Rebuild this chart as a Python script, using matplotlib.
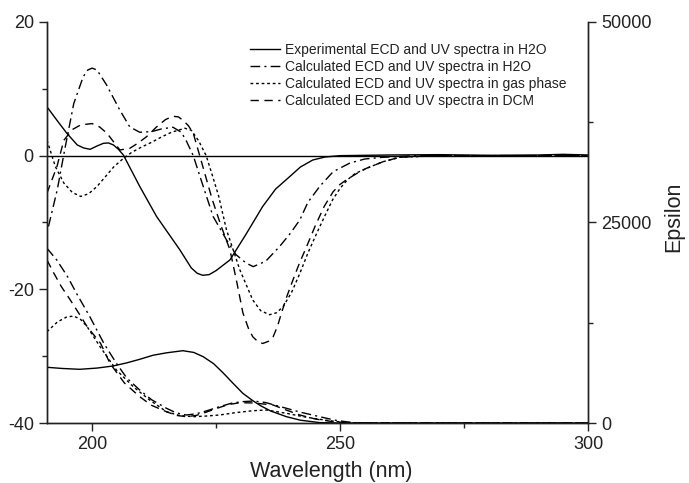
import matplotlib
matplotlib.use('Agg')
import matplotlib.pyplot as plt
from matplotlib.ticker import MultipleLocator

plt.rcParams['font.family'] = ['Liberation Sans', 'DejaVu Sans']
plt.rcParams['axes.unicode_minus'] = False

# ECD spectra (left axis)
exp_ecd_x = [190.9, 192.9, 194.9, 197.0, 198.3, 199.6, 201.0, 202.3, 203.3, 204.3,
             205.3, 206.3, 209.6, 213.0, 217.7, 220.0, 221.2, 222.3, 223.6, 225.0,
             227.8, 231.0, 234.4, 237.0, 239.9, 242.0, 244.5, 247.0, 250.0, 260.0,
             270.0, 280.0, 290.0, 295.0, 300.0]
exp_ecd_y = [7.3, 5.3, 3.35, 1.6, 1.15, 0.95, 1.45, 1.85, 1.9, 1.6,
             0.95, 0.1, -4.6, -9.1, -14.1, -16.8, -17.6, -17.9, -17.8, -17.2,
             -15.6, -11.8, -7.6, -5.0, -3.1, -1.7, -0.65, -0.2, 0.0, 0.1,
             0.15, 0.05, 0.1, 0.2, 0.1]

h2o_ecd_x = [191.2, 193.0, 194.5, 196.3, 198.2, 199.1, 200.0, 201.0, 202.9, 205.6,
             207.6, 209.6, 212.0, 214.0, 216.3, 218.0, 219.0, 220.4, 221.7, 224.4,
             227.1, 229.0, 231.1, 232.5, 235.0, 237.8, 240.0, 241.9, 243.5, 245.9,
             248.6, 252.0, 255.0, 258.6, 265.0, 300.0]
h2o_ecd_y = [-10.6, -5.0, 1.0, 7.8, 11.8, 12.8, 13.1, 12.8, 10.6, 6.8,
             4.3, 3.5, 3.6, 4.0, 4.25, 3.5, 2.2, 0.0, -3.0, -9.1,
             -12.6, -14.8, -16.1, -16.6, -15.8, -13.6, -11.6, -9.6, -7.0, -4.6,
             -2.4, -1.1, -0.5, -0.25, 0.0, 0.0]

gas_ecd_x = [190.9, 192.6, 194.3, 196.0, 197.7, 199.3, 201.0, 204.4, 206.4, 208.0,
             210.0, 212.0, 214.0, 216.0, 218.7, 220.0, 221.5, 223.0, 224.1, 225.5,
             227.1, 229.8, 232.4, 234.0, 235.8, 237.2, 238.5, 240.2, 241.9, 243.5,
             245.3, 247.0, 248.5, 250.0, 251.5, 253.0, 255.3, 258.7, 262.0, 270.0,
             300.0]
gas_ecd_y = [2.3, -1.65, -4.1, -5.5, -6.1, -5.7, -4.6, -1.65, -0.35, 0.5,
             1.3, 2.0, 2.8, 3.5, 4.1, 3.8, 2.2, 0.0, -2.6, -6.0,
             -11.1, -17.1, -21.6, -23.2, -23.8, -23.5, -22.6, -20.5, -17.6, -14.6,
             -11.6, -8.9, -6.6, -4.9, -3.6, -2.7, -1.9, -0.9, -0.25, 0.0,
             0.0]

dcm_ecd_x = [190.9, 192.9, 194.3, 196.0, 197.7, 200.0, 201.5, 203.0, 205.6, 207.6,
             209.3, 211.0, 213.0, 214.8, 216.3, 217.4, 218.3, 219.4, 220.4, 221.7,
             222.7, 224.2, 226.0, 227.8, 229.2, 230.4, 231.5, 232.4, 233.4, 234.4,
             235.5, 236.5, 237.4, 238.2, 239.3, 240.5, 241.8, 243.2, 245.0, 246.8,
             248.6, 250.0, 251.3, 253.3, 255.3, 258.7, 262.0, 268.0, 300.0]
dcm_ecd_y = [-5.6, -1.65, 2.3, 3.9, 4.6, 4.8, 4.3, 3.35, 0.85, 1.1,
             1.9, 2.85, 4.3, 5.4, 5.9, 5.8, 5.3, 4.5, 3.35, 0.0,
             -2.6, -6.5, -10.5, -14.1, -19.0, -23.5, -25.8, -27.1, -27.8, -28.1,
             -27.8, -27.1, -25.5, -23.5, -21.0, -18.6, -16.1, -13.7, -10.5, -7.6,
             -5.4, -4.3, -3.6, -2.7, -1.9, -0.9, -0.25, 0.0, 0.0]

# UV spectra (right axis, epsilon)
exp_uv_x = [190.9, 194.0, 197.5, 201.0, 204.2, 207.0, 209.6, 212.3, 215.0, 218.3,
            220.5, 222.4, 224.5, 226.5, 228.5, 230.4, 232.5, 234.0, 236.0, 239.2,
            242.0, 245.9, 250.0, 300.0]
exp_uv_y = [6946, 6800, 6696, 6850, 7108, 7500, 7943, 8450, 8750, 9016,
            8800, 8267, 7400, 6200, 4900, 3700, 2743, 2150, 1500, 786,
            350, 50, 0, 0]

h2o_uv_x = [190.9, 192.9, 195.0, 197.0, 199.5, 202.4, 204.9, 207.0, 209.6, 212.0,
            215.0, 217.0, 219.0, 221.0, 223.0, 225.7, 228.0, 230.0, 232.5, 235.0,
            237.0, 239.2, 242.0, 245.9, 249.0, 252.6, 256.0, 300.0]
h2o_uv_y = [21784, 20300, 18300, 16000, 13300, 9900, 7444, 5600, 4115, 2900,
            1833, 1250, 998, 1150, 1500, 2033, 2450, 2650, 2743, 2550,
            2200, 1833, 1350, 786, 350, 37, 0, 0]

gas_uv_x = [190.9, 193.0, 194.8, 196.3, 197.7, 199.0, 201.6, 204.9, 208.3, 211.6,
            215.0, 217.5, 220.4, 223.0, 225.7, 229.0, 232.5, 235.2, 239.2, 242.5,
            245.9, 249.0, 252.6, 256.0, 300.0]
gas_uv_y = [11384, 12600, 13200, 13342, 12900, 12008, 9514, 6609, 4526, 2868,
            1409, 950, 786, 870, 998, 1300, 1534, 1621, 1210, 800,
            461, 200, 37, 0, 0]

dcm_uv_x = [190.9, 192.3, 193.8, 195.6, 197.3, 199.0, 201.7, 203.6, 206.5, 209.6,
            212.0, 215.0, 217.0, 219.0, 221.0, 223.0, 225.5, 227.5, 229.8, 232.5,
            236.5, 239.0, 241.9, 245.0, 248.6, 252.0, 256.0, 300.0]
dcm_uv_y = [20325, 18660, 17000, 15340, 13700, 12010, 9940, 7444, 5000, 3280,
            2200, 1409, 950, 786, 950, 1350, 1900, 2300, 2531, 2500,
            2245, 1650, 998, 500, 162, 20, 0, 0]

labels = ['Experimental ECD and UV spectra in H2O',
          'Calculated ECD and UV spectra in H2O',
          'Calculated ECD and UV spectra in gas phase',
          'Calculated ECD and UV spectra in DCM']

styles = ['-', (0, (7, 3, 1.5, 3)), (0, (2, 2)), (0, (6, 4))]
ink = '#222222'

fig = plt.figure(figsize=(6.89, 4.83), dpi=100)
ax1 = fig.add_axes([0.0682, 0.1242, 0.7852, 0.8303])
ax2 = ax1.twinx()

ecd = [(exp_ecd_x, exp_ecd_y), (h2o_ecd_x, h2o_ecd_y),
       (gas_ecd_x, gas_ecd_y), (dcm_ecd_x, dcm_ecd_y)]
uv = [(exp_uv_x, exp_uv_y), (h2o_uv_x, h2o_uv_y),
      (gas_uv_x, gas_uv_y), (dcm_uv_x, dcm_uv_y)]

lines = []
for (x, y), ls, lab in zip(ecd, styles, labels):
    lines += ax1.plot(x, y, color='black', linestyle=ls, linewidth=1.0, label=lab)
for (x, y), ls in zip(uv, styles):
    ax2.plot(x, y, color='black', linestyle=ls, linewidth=1.0)

ax1.axhline(0, color='black', linewidth=1.0)

ax1.set_xlim(190.9, 300)
ax1.set_ylim(-40, 20)
ax2.set_ylim(0, 50000)

ax1.xaxis.set_major_locator(MultipleLocator(50))
ax1.xaxis.set_minor_locator(MultipleLocator(25))
ax1.yaxis.set_major_locator(MultipleLocator(20))
ax1.yaxis.set_minor_locator(MultipleLocator(10))
ax2.yaxis.set_major_locator(MultipleLocator(25000))
ax2.yaxis.set_minor_locator(MultipleLocator(12500))

for ax in (ax1, ax2):
    ax.spines['top'].set_visible(False)
    for s in ax.spines.values():
        s.set_color(ink)
        s.set_linewidth(1.0)
    ax.tick_params(which='major', direction='out', length=6, width=1.0,
                   colors=ink, labelsize=13, labelcolor=ink)
    ax.tick_params(which='minor', direction='out', length=3.5, width=1.0, colors=ink)

ax1.set_xlabel('Wavelength (nm)', fontsize=15.5, color=ink)
ax1.xaxis.set_label_coords(0.525, -0.095)
ax2.set_ylabel('Epsilon', fontsize=15.5, color=ink)
ax2.yaxis.set_label_coords(1.14, 0.514)

ax1.legend(lines, labels, loc='upper left', bbox_to_anchor=(0.375, 0.948),
           frameon=False, fontsize=10, handlelength=2.16, handletextpad=0.36,
           labelspacing=0.22, borderpad=0, borderaxespad=0, labelcolor=ink)

fig.savefig('out.png', dpi=100)
